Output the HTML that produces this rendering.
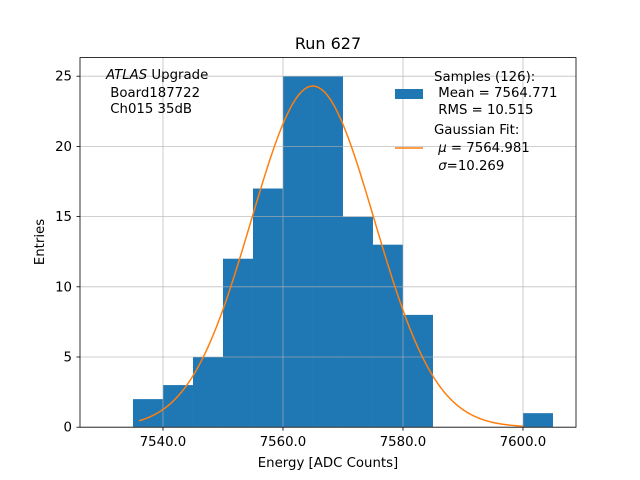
<!DOCTYPE html>
<html><head><meta charset="utf-8"><style>
html,body{margin:0;padding:0;background:#fff;}
svg{display:block;font-family:"DejaVu Sans","Liberation Sans",sans-serif;}
text{white-space:pre;}
</style></head><body>
<svg id="chart" width="640" height="480" viewBox="0 0 640 480">
<rect width="640" height="480" fill="#fff"/>
<text x="328" y="49" font-size="16" text-anchor="middle">Run 627</text>
<g id="bars"></g>
<g id="grid"></g>
<path id="fit" fill="none" stroke="#ff7f0e" stroke-width="1.5"/>
<rect x="80" y="57.6" width="496" height="369.6" fill="none" stroke="#000" stroke-width="0.8"/>
<g id="xticks" font-size="13.3"></g>
<g id="yticks" font-size="13.3"></g>
<text x="328" y="467" font-size="13.3" text-anchor="middle">Energy [ADC Counts]</text>
<text x="44" y="242" font-size="13.3" text-anchor="middle" transform="rotate(-90 44 242)">Entries</text>
<g font-size="13.3">
<text x="106" y="79"><tspan font-style="italic">ATLAS</tspan> Upgrade</text>
<text x="106" y="97"> Board187722</text>
<text x="106" y="113"> Ch015 35dB</text>
</g>
<g font-size="13.3">
<rect x="395" y="89" width="28" height="10" fill="#1f77b4"/>
<text x="434" y="81">Samples (126):</text>
<text x="434" y="97"> Mean = 7564.771</text>
<text x="434" y="114"> RMS = 10.515</text>
<line x1="395" y1="148" x2="423" y2="148" stroke="#ff7f0e" stroke-width="1.5"/>
<text x="434" y="134">Gaussian Fit:</text>
<text x="434" y="152"> <tspan font-style="italic">μ</tspan> = 7564.981</text>
<text x="434" y="170"> <tspan font-style="italic">σ</tspan>=10.269</text>
</g>
</svg>
<script>
const binStarts=[7535,7540,7545,7550,7555,7560,7565,7570,7575,7580,7600];
const counts=[2,3,5,12,17,25,25,15,13,8,1];
const binWidth=5;
const fitAmp=24.3, fitMu=7564.981, fitSigma=10.269;
const xTicks=[7540,7560,7580,7600];
const yTicks=[0,5,10,15,20,25];
const fitRange=[7536,7600];
const NS="http://www.w3.org/2000/svg";
const X=v=>80+(v-7526.17)*6;
const Y=v=>427.2-v*14.04;
function mk(t,a,p){const e=document.createElementNS(NS,t);for(const k in a)e.setAttribute(k,a[k]);p.appendChild(e);return e;}
const bars=document.getElementById('bars');
binStarts.forEach((s,i)=>{
 const r=mk('rect',{x:X(s),y:Y(counts[i]),width:X(s+binWidth)-X(s),height:Y(0)-Y(counts[i]),fill:'#1f77b4'},bars);
 
 
});
const grid=document.getElementById('grid');
const xt=document.getElementById('xticks'),yt=document.getElementById('yticks');
xTicks.forEach(v=>{
 const l=mk('line',{x1:X(v),x2:X(v),y1:57.6,y2:427.2,stroke:'#b0b0b0','stroke-width':0.8,'stroke-opacity':0.8},grid);
 
 
 mk('line',{x1:X(v),x2:X(v),y1:427.2,y2:430.7,stroke:'#000','stroke-width':0.8},xt);
 const t=mk('text',{x:X(v),y:446,'text-anchor':'middle'},xt);t.textContent=v.toFixed(1);
 
 
});
yTicks.forEach(v=>{
 const l=mk('line',{x1:80,x2:576,y1:Y(v),y2:Y(v),stroke:'#b0b0b0','stroke-width':0.8,'stroke-opacity':0.8},grid);
 
 
 mk('line',{x1:76.5,x2:80,y1:Y(v),y2:Y(v),stroke:'#000','stroke-width':0.8},yt);
 const t=mk('text',{x:72,y:Y(v)+4.5,'text-anchor':'end'},yt);t.textContent=v;
 
 
});
let d='';
for(let i=0;i<=200;i++){
 const x=fitRange[0]+(fitRange[1]-fitRange[0])*i/200;
 const y=fitAmp*Math.exp(-0.5*((x-fitMu)/fitSigma)**2);
 d+=(i?'L':'M')+X(x).toFixed(2)+' '+Y(y).toFixed(2);
}
document.getElementById('fit').setAttribute('d',d);
</script>
</body></html>
